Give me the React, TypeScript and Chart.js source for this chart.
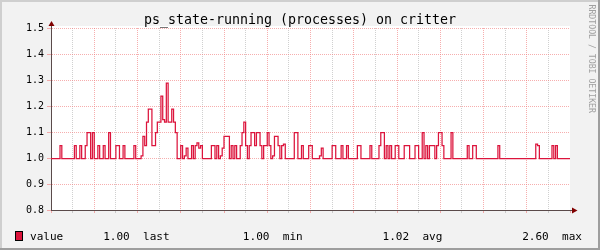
import React, { useEffect, useRef } from 'react';
import { Chart, registerables } from 'chart.js';

Chart.register(...registerables);

// ---------- data ----------
const TITLE = 'ps_state-running (processes) on critter';
const SIDE_TEXT = 'RRDTOOL / TOBI OETIKER';
const SERIES_NAME = 'value';

// time axis in hours relative to Wed 00:00
const START_HOUR = -2;
const END_HOUR = 22;
const STEP_MINUTES = 5;

const xTickHours = [-2, -1, 0, 1, 2, 3, 4, 5, 6, 7, 8, 9, 10, 11, 12, 13, 14, 15, 16, 17, 18, 19, 20, 21, 22];
const xLabelHours = [0, 4, 8, 12, 16, 20];
const xLabels = ['Wed 00:00', 'Wed 04:00', 'Wed 08:00', 'Wed 12:00', 'Wed 16:00', 'Wed 20:00'];

const yTicks = [0.8, 0.9, 1.0, 1.1, 1.2, 1.3, 1.4, 1.5];

const legendNames = ['last', 'min', 'avg', 'max'];
const legendValues = [1.0, 1.0, 1.02, 2.6];

// 5-minute samples from Tue 22:00 (one row per hour)
const values = [
  1, 1, 1, 1, 1, 1.05, 1, 1, 1, 1, 1, 1,
  1, 1.05, 1, 1, 1.05, 1, 1, 1.05, 1.1, 1.1, 1, 1.1,
  1, 1, 1.05, 1, 1, 1.05, 1, 1, 1.1, 1, 1, 1,
  1.05, 1.05, 1, 1, 1.05, 1, 1, 1, 1, 1, 1.05, 1,
  1, 1, 1.01, 1.085, 1.05, 1.14, 1.19, 1.19, 1.05, 1.05, 1.1, 1.14,
  1.14, 1.24, 1.15, 1.14, 1.29, 1.14, 1.14, 1.19, 1.14, 1.1, 1, 1,
  1.05, 1, 1.01, 1.04, 1, 1, 1.05, 1, 1.05, 1.06, 1.04, 1.05,
  1, 1, 1, 1, 1, 1.05, 1.05, 1, 1.05, 1, 1.01, 1.04,
  1.085, 1.085, 1.085, 1, 1.05, 1, 1.05, 1, 1, 1.05, 1.1, 1.14,
  1.05, 1, 1.05, 1.1, 1.1, 1.05, 1.1, 1.1, 1.05, 1, 1.05, 1.05,
  1.1, 1.05, 1, 1.01, 1.085, 1.085, 1.05, 1, 1.05, 1.055, 1, 1,
  1, 1, 1, 1.1, 1.1, 1, 1, 1.05, 1, 1, 1, 1.05,
  1.05, 1, 1, 1, 1, 1.01, 1.04, 1, 1, 1, 1, 1,
  1.05, 1.05, 1, 1, 1, 1.05, 1, 1, 1.05, 1, 1, 1,
  1, 1, 1.05, 1.05, 1, 1, 1, 1, 1, 1.05, 1, 1,
  1, 1, 1.05, 1.1, 1.1, 1, 1.05, 1, 1.05, 1, 1, 1.05,
  1.05, 1, 1, 1, 1.05, 1.05, 1.05, 1, 1, 1, 1.05, 1.05,
  1, 1, 1.1, 1, 1.05, 1, 1.05, 1.05, 1.05, 1, 1.05, 1.1,
  1.1, 1.05, 1, 1, 1, 1, 1.1, 1, 1, 1, 1, 1,
  1, 1, 1, 1.05, 1, 1, 1.05, 1.05, 1, 1, 1, 1,
  1, 1, 1, 1, 1, 1, 1, 1, 1.05, 1, 1, 1,
  1, 1, 1, 1, 1, 1, 1, 1, 1, 1, 1, 1,
  1, 1, 1, 1, 1, 1.055, 1.05, 1, 1, 1, 1, 1,
  1, 1, 1.05, 1, 1.05, 1, 1, 1, 1, 1, 1, 1,
];

// ---------- styles ----------
const MONO = '"DejaVu Sans Mono", monospace';
const LINE_COLOR = '#dc143c';
const MAJOR = 'rgba(240,120,120,0.6)';
const MINOR = 'rgba(150,150,150,0.45)';
const AXIS = '#5a4a4a';
const ARROW = '#800000';

const rrdPlugin = {
  id: 'rrdDecor',
  beforeDraw(chart: any) {
    const { ctx, chartArea: a, width, height } = chart;
    ctx.save();
    ctx.fillStyle = '#f2f2f2';
    ctx.fillRect(0, 0, width, height);
    ctx.fillStyle = '#cfcfcf';
    ctx.fillRect(0, 0, width, 2);
    ctx.fillRect(0, 0, 2, height);
    ctx.fillStyle = '#9e9e9e';
    ctx.fillRect(0, height - 2, width, 2);
    ctx.fillRect(width - 2, 0, 2, height);
    ctx.fillStyle = '#ffffff';
    ctx.fillRect(a.left, a.top - 2, a.right - a.left, a.bottom - a.top + 2);
    ctx.restore();
  },
  beforeDatasetsDraw(chart: any) {
    chart.ctx.save();
    chart.ctx.translate(0, 0.5);
  },
  afterDatasetsDraw(chart: any) {
    chart.ctx.restore();
  },
  afterDraw(chart: any) {
    const { ctx, chartArea: a, width } = chart;
    ctx.save();
    // title
    ctx.fillStyle = '#000';
    ctx.font = `13.3px ${MONO}`;
    ctx.textAlign = 'center';
    ctx.textBaseline = 'alphabetic';
    ctx.fillText(TITLE, width / 2, 24);

    // axis extensions + arrows
    const ax = Math.round(a.left) + 0.5;
    const ay = Math.round(a.bottom) + 0.5;
    ctx.strokeStyle = AXIS;
    ctx.lineWidth = 1;
    ctx.beginPath();
    ctx.moveTo(ax, a.top);
    ctx.lineTo(ax, a.top - 3);
    ctx.moveTo(a.right, ay);
    ctx.lineTo(a.right + 3, ay);
    ctx.stroke();
    ctx.fillStyle = ARROW;
    ctx.beginPath();
    ctx.moveTo(ax, a.top - 7);
    ctx.lineTo(ax - 3, a.top - 2);
    ctx.lineTo(ax + 3, a.top - 2);
    ctx.closePath();
    ctx.fill();
    ctx.beginPath();
    ctx.moveTo(a.right + 7.5, ay);
    ctx.lineTo(a.right + 2, ay - 3);
    ctx.lineTo(a.right + 2, ay + 3);
    ctx.closePath();
    ctx.fill();

    // legend
    ctx.fillStyle = LINE_COLOR;
    ctx.fillRect(15, 231, 8, 10);
    ctx.strokeStyle = '#000';
    ctx.strokeRect(15.5, 231.5, 7, 9);
    let legend = SERIES_NAME.padEnd(11);
    legendValues.forEach((v, k) => {
      legend = legend.padEnd(11 + 21 * k) + v.toFixed(2) + '  ' + legendNames[k];
    });
    ctx.fillStyle = '#000';
    ctx.font = `11.05px ${MONO}`;
    ctx.textAlign = 'left';
    ctx.fillText(legend, 30, 240);

    // side watermark
    ctx.translate(591.5, 4.5);
    ctx.rotate(Math.PI / 2);
    ctx.fillStyle = '#a0a0a0';
    ctx.font = `8.2px ${MONO}`;
    ctx.textBaseline = 'middle';
    ctx.fillText(SIDE_TEXT, 0, 0);
    ctx.restore();
  },
};

export default function App() {
  const canvasRef = useRef<HTMLCanvasElement | null>(null);

  useEffect(() => {
    if (!canvasRef.current) return;
    const points = values.map((v, i) => ({ x: START_HOUR + (i * STEP_MINUTES) / 60, y: v }));
    points.push({ x: END_HOUR, y: values[values.length - 1] });

    const chart = new Chart(canvasRef.current, {
      type: 'line',
      data: {
        datasets: [
          {
            label: SERIES_NAME,
            data: points,
            stepped: true,
            borderColor: LINE_COLOR,
            borderWidth: 1.25,
            pointRadius: 0,
            fill: false,
            tension: 0,
          },
        ],
      },
      options: {
        animation: false,
        responsive: false,
        devicePixelRatio: 1,
        events: [],
        layout: { padding: { top: 28, left: 0, right: 30, bottom: 40 } },
        plugins: {
          legend: { display: false },
          tooltip: { enabled: false },
          title: { display: false },
        },
        scales: {
          x: {
            type: 'linear',
            min: START_HOUR,
            max: END_HOUR,
            afterFit: (s: any) => {
              s.height = 0;
            },
            afterBuildTicks: (s: any) => {
              s.ticks = xTickHours.map((v) => ({ value: v }));
            },
            ticks: {
              autoSkip: false,
              maxRotation: 0,
              minRotation: 0,
              padding: 0.5,
              color: '#000',
              font: { family: MONO, size: 10 },
              callback: (v: any) => {
                const k = xLabelHours.indexOf(Number(v));
                return k >= 0 ? xLabels[k] : '';
              },
            },
            grid: {
              color: (c: any) => {
                const v = c.tick ? c.tick.value : 0;
                if (v === START_HOUR || v === END_HOUR) return 'rgba(0,0,0,0)';
                return ((v % 2) + 2) % 2 === 0 ? MAJOR : MINOR;
              },
              tickColor: (c: any) => {
                const v = c.tick ? c.tick.value : 0;
                return ((v % 2) + 2) % 2 === 0 ? MAJOR : MINOR;
              },
              tickLength: 3,
              lineWidth: 1,
            },
            border: { color: AXIS, width: 1, dash: [1, 1] },
          },
          y: {
            type: 'linear',
            min: 0.8,
            max: 1.5,
            afterFit: (s: any) => {
              s.width = 51;
            },
            afterBuildTicks: (s: any) => {
              s.ticks = yTicks.map((v) => ({ value: v }));
            },
            ticks: {
              padding: 3,
              color: '#000',
              font: { family: MONO, size: 10 },
              callback: (v: any) => Number(v).toFixed(1),
            },
            grid: {
              color: (c: any) => (c.tick && c.tick.value === 0.8 ? 'rgba(0,0,0,0)' : MAJOR),
              tickColor: MAJOR,
              tickLength: 4,
              lineWidth: 1,
            },
            border: { color: AXIS, width: 1, dash: [1, 1] },
          },
        },
      },
      plugins: [rrdPlugin],
    } as any);

    return () => chart.destroy();
  }, []);

  return (
    <div style={{ position: 'fixed', left: 0, top: 0, width: 600, height: 250 }}>
      <canvas ref={canvasRef} width={600} height={250} style={{ display: 'block', width: 600, height: 250 }} />
    </div>
  );
}
